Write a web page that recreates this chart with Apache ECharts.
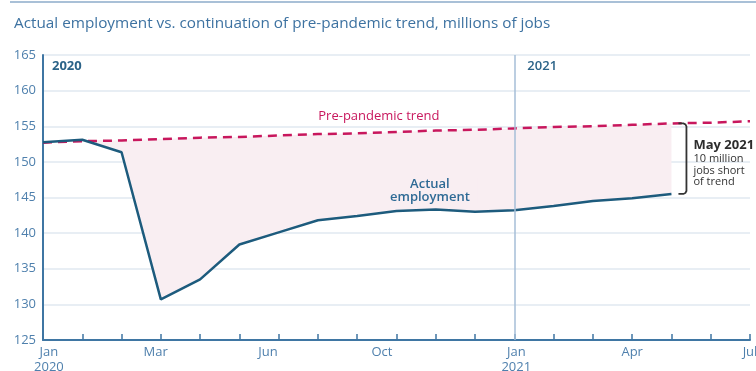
<!DOCTYPE html>
<html>
<head>
<meta charset="utf-8">
<script src="https://cdn.jsdelivr.net/npm/echarts@6/dist/echarts.min.js"></script>
<style>
  html, body { margin: 0; padding: 0; background: #fff; }
  #chart { width: 756px; height: 371px; }
</style>
</head>
<body>
<div id="chart"></div>
<script>
// Monthly payroll employment, millions of jobs (Jan 2020 = month 0)
const months = ['Jan 2020','Feb 2020','Mar 2020','Apr 2020','May 2020','Jun 2020','Jul 2020',
  'Aug 2020','Sep 2020','Oct 2020','Nov 2020','Dec 2020','Jan 2021','Feb 2021','Mar 2021',
  'Apr 2021','May 2021','Jun 2021','Jul 2021'];
const actual = [152.75, 153.1, 151.35, 130.7, 133.5, 138.4, 140.1, 141.8, 142.4, 143.1,
  143.3, 143.0, 143.2, 143.8, 144.5, 144.9, 145.5];
const trend = [152.7, 152.9, 153.0, 153.2, 153.4, 153.5, 153.7, 153.9, 154.0, 154.2,
  154.4, 154.5, 154.7, 154.9, 155.0, 155.2, 155.4, 155.5, 155.7];
const tickLabels = ['Jan\n2020', 'Mar', 'Jun', 'Oct', 'Jan\n2021', 'Apr', 'Jul'];
const yTicks = [125, 130, 135, 140, 145, 150, 155, 160, 165];

// where each month label sits along the month axis
const labelAt = [0.15, 2.87, 5.73, 8.63, 12.05, 15.0, 18];

const FONT = '"Open Sans", sans-serif';
const BLUE_TXT = '#4f80ad';
const AXIS = '#3f76a3';
const GRID = '#e1e8f1';
const ACTUAL = '#1d5b7d';
const TREND = '#c8175d';
const FILL = '#f9eef2';

const actualPts = actual.map((v, i) => [i, v]);
const trendPts = trend.map((v, i) => [i, v]);

const chart = echarts.init(document.getElementById('chart'), null, { renderer: 'canvas' });

// shaded band between the trend and actual employment
function renderGap(params, api) {
  const pts = [];
  for (let i = 0; i < actual.length; i++) pts.push(api.coord([i, Math.max(trend[i], actual[i])]));
  for (let i = actual.length - 1; i >= 0; i--) pts.push(api.coord([i, Math.min(trend[i], actual[i])]));
  return { type: 'polygon', shape: { points: pts }, style: { fill: FILL } };
}

const option = {
  animation: false,
  textStyle: { fontFamily: FONT },
  title: {
    text: 'Actual employment vs. continuation of pre-pandemic trend, millions of jobs',
    left: 9, top: 11,
    textStyle: { fontFamily: FONT, fontSize: 15.3, fontWeight: 'normal', color: '#3d72a1' }
  },
  grid: { left: 43, right: 6, top: 55, bottom: 31, containLabel: false, outerBoundsMode: 'none' },
  xAxis: {
    type: 'value', min: 0, max: 18, interval: 1,
    axisLine: { show: true, lineStyle: { color: AXIS, width: 2 } },
    axisTick: { show: true, inside: true, length: 6, lineStyle: { color: AXIS, width: 1.5 } },
    splitLine: { show: false },
    axisLabel: {
      customValues: labelAt,
      formatter: v => {
        const k = labelAt.findIndex(a => Math.abs(a - v) < 1e-6);
        return k >= 0 ? tickLabels[k] : '';
      },
      color: BLUE_TXT, fontFamily: FONT, fontSize: 13, lineHeight: 15, margin: 5,
      showMinLabel: true, showMaxLabel: true
    }
  },
  yAxis: {
    type: 'value', min: yTicks[0], max: yTicks[yTicks.length - 1], interval: 5,
    axisLine: { show: true, lineStyle: { color: AXIS, width: 2 } },
    axisTick: { show: false },
    splitLine: { show: true, lineStyle: { color: GRID, width: 1.5 } },
    axisLabel: { color: BLUE_TXT, fontFamily: FONT, fontSize: 13, margin: 7 }
  },
  series: [
    {
      name: 'shortfall', type: 'custom', renderItem: renderGap, data: [[0, 150]],
      silent: true, z: 1
    },
    {
      name: 'Pre-pandemic trend', type: 'line', data: trendPts, symbol: 'none',
      lineStyle: { color: TREND, width: 2.5, type: [9, 6] }, z: 3,
      markLine: {
        silent: true, symbol: 'none', label: { show: false },
        lineStyle: { color: '#a6bed7', width: 1.5, type: 'solid' },
        data: [{ xAxis: 12 }]
      }
    },
    {
      name: 'Actual employment', type: 'line', data: actualPts, symbol: 'none',
      lineStyle: { color: ACTUAL, width: 2.5 }, z: 4
    }
  ]
};
chart.setOption(option);

// annotations anchored to the plotted values
const px = (x, y) => chart.convertToPixel({ gridIndex: 0 }, [x, y]);
const last = actual.length - 1;
const topPt = px(last, trend[last]);
const botPt = px(last, actual[last]);
const bx0 = topPt[0] + 7, bx1 = topPt[0] + 15;
const plotTop = px(0, yTicks[yTicks.length - 1])[1];
const jan21 = px(12, 150)[0];
const tY = topPt[1], bY = botPt[1];

chart.setOption({
  graphic: [
    { type: 'line', z: 10, shape: { x1: 10, y1: 2, x2: 756, y2: 2 }, style: { stroke: '#a9c0d7', lineWidth: 2 } },
    { type: 'text', z: 10, x: px(0, 0)[0] + 9, y: plotTop + 11,
      style: { text: '2020', font: '700 13px ' + FONT, fill: '#2b6388', verticalAlign: 'middle' } },
    { type: 'text', z: 10, x: jan21 + 13, y: plotTop + 11,
      style: { text: '2021', font: '600 13px ' + FONT, fill: '#2b6388', verticalAlign: 'middle' } },
    { type: 'text', z: 10, x: px(8.55, 0)[0], y: px(0, 156.4)[1],
      style: { text: 'Pre-pandemic trend', font: '500 13px ' + FONT, fill: TREND,
        align: 'center', verticalAlign: 'middle' } },
    { type: 'text', z: 10, x: px(9.85, 0)[0], y: px(0, 145.95)[1],
      style: { text: 'Actual\nemployment', font: '600 13px ' + FONT, fill: '#2e6a95',
        lineHeight: 13, align: 'center', verticalAlign: 'middle',
        backgroundColor: FILL, padding: [0, 8] } },
    { type: 'polyline', z: 10, shape: { points: [
        [bx0, tY], [bx1 - 3, tY], [bx1 - 1, tY + 1], [bx1, tY + 3],
        [bx1, bY - 3], [bx1 - 1, bY - 1], [bx1 - 3, bY], [bx0, bY]] },
      style: { stroke: '#333', lineWidth: 1.8, fill: null } },
    { type: 'text', z: 10, x: bx1 + 7, y: (tY + bY) / 2 - 13,
      style: { text: 'May 2021', font: '700 13px ' + FONT, fill: '#2d2d2d', verticalAlign: 'middle' } },
    { type: 'text', z: 10, x: bx1 + 7, y: (tY + bY) / 2 + 12,
      style: { text: '10 million\njobs short\nof trend', font: '500 11px ' + FONT, fill: '#333',
        lineHeight: 11.5, verticalAlign: 'middle' } }
  ]
});
</script>
</body>
</html>
